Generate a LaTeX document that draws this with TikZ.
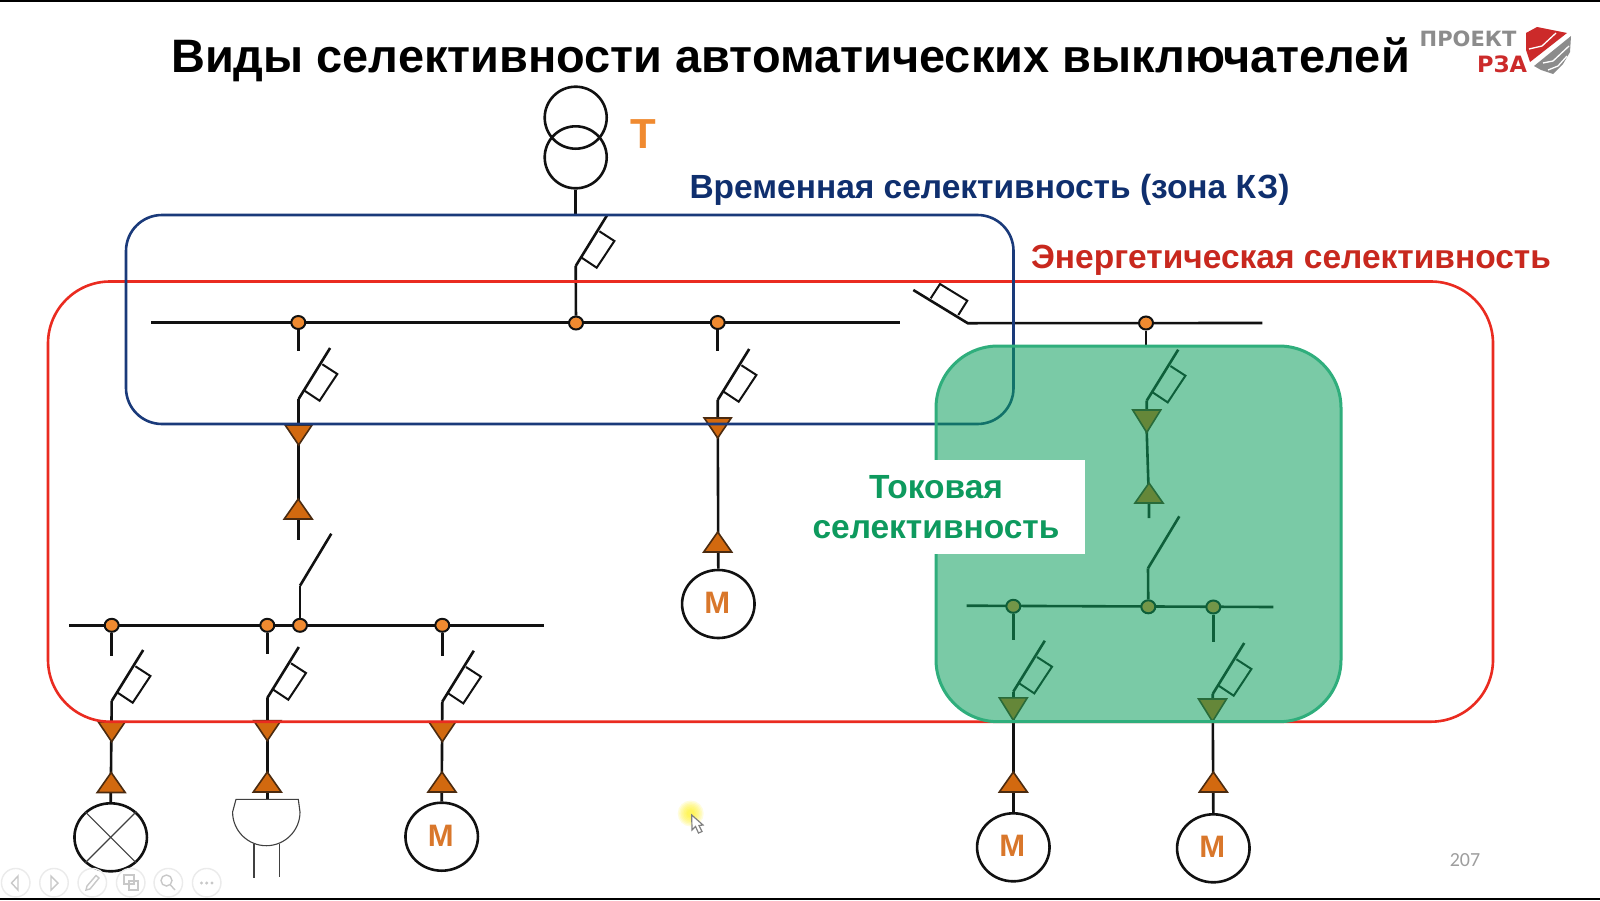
\documentclass[tikz,border=0pt]{standalone}
\usetikzlibrary{shapes.geometric}
\usepackage{fontspec}
\setmainfont{Liberation Sans}
\newfontfamily\numfont{Carlito}
\newfontfamily\logofont{DejaVu Sans}
\definecolor{wirec}{HTML}{111111}
\definecolor{dotc}{HTML}{F08A30}
\definecolor{tric}{HTML}{D2690F}
\definecolor{motc}{HTML}{D9772B}
\definecolor{bluec}{HTML}{1A3A7A}
\definecolor{bluet}{HTML}{0F2F6E}
\definecolor{redc}{HTML}{EA2B20}
\definecolor{redt}{HTML}{C8281E}
\definecolor{greenf}{HTML}{0DA05D}
\definecolor{greene}{HTML}{2FAE7C}
\definecolor{greent}{HTML}{0E9A5E}
\definecolor{logog}{HTML}{8C8C8C}
\definecolor{logor}{HTML}{CC2A2A}
\definecolor{btn}{HTML}{EBEBEB}
\tikzset{
  wire/.style={draw=wirec,line width=2.6pt},
  thinwire/.style={draw=black!75,line width=1.1pt},
  junction/.style={ellipse,draw=wirec,fill=dotc,line width=2pt,minimum width=14pt,minimum height=13pt,inner sep=0pt},
  motor/.style={ellipse,draw=wirec,line width=2.6pt,fill=white,minimum width=72.5pt,minimum height=68pt,inner sep=0pt,text=motc,font=\bfseries\fontsize{31}{31}\selectfont},
  winding/.style={circle,draw=wirec,line width=2.6pt,minimum size=62pt,inner sep=0pt},
  tdown/.style={draw=wirec!70!tric,fill=tric,line width=1.6pt,line join=miter},
  brk/.pic={
    \draw[wire] (31.5,-51) -- (0,0);
    \draw[draw=wirec,line width=2pt] (6,-8.3) -- (21,1.7) -- (38.7,-25) -- (23.7,-34.7);
  },
  swt/.pic={\draw[wire] (31.3,-52) -- (0,0);},
  trid/.pic={\filldraw[tdown] (-13.5,0) -- (13.5,0) -- (0,20) -- cycle;},
  tridl/.pic={\filldraw[tdown] (-14,0) -- (14,0) -- (0,22.5) -- cycle;},
  triu/.pic={\filldraw[tdown] (-14,0) -- (14,0) -- (0,-20) -- cycle;},
  btnc/.style={circle,draw=btn,line width=1.4pt,minimum size=28.5pt,inner sep=0pt},
  btni/.style={draw=btn!85!black,line width=1.4pt},
  lbl/.style={inner sep=0pt,font=\bfseries\fontsize{33.5}{40}\selectfont},
}
\begin{document}
\begin{tikzpicture}[x=1pt,y=-1pt]
\useasboundingbox (0,0) rectangle (1600,900);
\fill[white] (0,0) rectangle (1600,900);
\fill[black] (0,0) rectangle (1600,1.8);
\fill[black] (0,898.4) rectangle (1600,900);

% title and labels
\node[lbl,font=\bfseries\fontsize{46.9}{52}\selectfont,text=black] (title) at (790.5,60) {Виды селективности автоматических выключателей};
\node[lbl,font=\bfseries\fontsize{42}{42}\selectfont,text=dotc] (tlabel) at (643,134.5) {Т};
\node[lbl,text=bluet] (timelabel) at (989.5,189.5) {Временная селективность (зона КЗ)};
\node[lbl,text=redt] (enlabel) at (1291,260) {Энергетическая селективность};

% logo
\node[inner sep=0pt,font=\logofont\bfseries\fontsize{21}{21}\selectfont,text=logog] (logoa) at (1468,39) {ПРОЕКТ};
\node[inner sep=0pt,font=\logofont\bfseries\fontsize{22.5}{22.5}\selectfont,text=logor] (logob) at (1502,64) {РЗА};
\fill[logor] (1526,33) -- (1537,27) -- (1567,33) -- (1530,62) -- (1526,50) -- cycle;
\fill[logog] (1534,66) -- (1571,36) -- (1570,52) -- (1563,64) -- (1553,74) -- (1541,70) -- cycle;
\draw[white,line width=1.3pt] (1529,49) -- (1542,46) -- (1556,33);
\draw[white,line width=1.3pt] (1543,63) -- (1553,61) -- (1569,46);
\draw[white,line width=1.3pt] (1548,70) -- (1558,66) -- (1567,56);

% bus 1
\coordinate (bus1a) at (151,322.5);
\coordinate (bus1b) at (900,322.5);
\draw[wire] (bus1a) -- (bus1b);
\node[junction] (d1) at (298.3,322.5) {};
\node[junction] (d2) at (717.7,322.5) {};
\node[junction] (d0) at (576,323) {};

% transformer
\node[winding] (w1) at (575.7,117.7) {};
\node[winding] (w2) at (575.7,157.3) {};
\coordinate (b0) at (575.7,266);
\coordinate (b0t) at (575.7,215);
\draw[wire] (w2.south) -- (b0t);
\pic at (b0) {brk};
\draw[wire] (b0) -- (d0);

% left feeder
\draw[wire] (d1) -- (298.3,351);
\coordinate (b1) at (298.6,399);
\pic at (b1) {brk};
\coordinate (t1a) at (298.6,443);
\coordinate (t1b) at (298.6,499);
\coordinate (s1) at (298.6,540);
\draw[wire] (b1) -- (t1a) -- (t1b) -- (s1);
\pic at (298.6,425) {trid};
\pic at (298.2,519) {triu};
\coordinate (sw1) at (300,585.7);
\pic at (sw1) {swt};

% bus 2
\coordinate (bus2a) at (69,625.3);
\coordinate (bus2b) at (544,625.3);
\draw[wire] (bus2a) -- (bus2b);
\node[junction] (d3) at (111.7,625.3) {};
\node[junction] (d4) at (267.3,625.3) {};
\node[junction] (d5) at (300,625.3) {};
\node[junction] (d6) at (442.3,625.3) {};
\draw[wire] (sw1) -- (d5);

% middle feeder
\draw[wire] (d2) -- (717.7,351);
\coordinate (b2) at (717.7,400);
\pic at (b2) {brk};
\node[motor] (m1) at (718.3,604) {\hspace{-2pt}\raisebox{2pt}{М}};
\draw[wire] (b2) -- (m1.north);
\pic at (717.7,418) {trid};
\pic at (717.7,552) {triu};

% bus 2 feeders
\draw[wire] (d3) -- (111.7,656);
\coordinate (b3) at (111.7,701);
\pic at (b3) {brk};
\node[ellipse,draw=wirec,line width=2.6pt,minimum width=72.5pt,minimum height=68pt,inner sep=0pt] (lamp) at (110.7,837.3) {};
\draw[thinwire] (lamp.45) -- (lamp.225) (lamp.135) -- (lamp.315);
\draw[wire] (b3) -- (lamp.north);
\pic at (111.7,721.7) {trid};
\pic at (111.2,792.5) {triu};

\draw[wire] (d4) -- (267.3,654);
\coordinate (b4) at (267.3,698);
\pic at (b4) {brk};
\coordinate (sock) at (267.3,799.3);
\draw[wire] (b4) -- (sock);
\pic at (267.3,720.7) {trid};
\pic at (267.3,792) {triu};
\draw[thinwire,fill=white] (236,799.3) -- (298.3,799.3) -- (300,812) arc[start angle=0,end angle=180,radius=33.7] -- cycle;
\coordinate (lega) at (254,844);
\coordinate (legb) at (279.3,844);
\draw[thinwire] (lega) -- (254,878);
\draw[thinwire] (legb) -- (279.3,877);

\draw[wire] (d6) -- (442.3,656);
\coordinate (b5) at (442.3,701.7);
\pic at (b5) {brk};
\node[motor] (m2) at (441.7,836.7) {\hspace{-2pt}\raisebox{2pt}{М}};
\draw[wire] (b5) -- (m2.north);
\pic at (442.3,721.7) {trid};
\pic at (442,792) {triu};

% right section
\coordinate (bus3a) at (967.7,323.2);
\coordinate (bus3b) at (1262.3,323);
\coordinate (qtop) at (913.3,290);
\draw[wire] (qtop) -- (bus3a) -- (bus3b);
\draw[draw=wirec,line width=2pt] (930.7,298.3) -- (940,284) -- (967.3,300.7) -- (958.3,315);
\node[junction] (d7) at (1146,323) {};
\draw[wire] (d7) -- (1146,346);
\coordinate (b6) at (1146.7,400.7);
\pic at (b6) {brk};
\coordinate (t6a) at (1146.7,431);
\coordinate (t6b) at (1149,503);
\coordinate (s6) at (1149,518);
\draw[wire] (b6) -- (t6a) -- (t6b) -- (s6);
\pic at (1146.7,410) {tridl};
\pic at (1149,503) {triu};
\coordinate (sw2) at (1148,568.3);
\pic at (sw2) {swt};

\coordinate (bus4a) at (966.7,605.7);
\coordinate (bus4b) at (1273.3,607);
\draw[wire] (bus4a) -- (bus4b);
\node[junction] (d8) at (1013.3,606.3) {};
\node[junction] (d9) at (1148.3,606.8) {};
\node[junction] (d10) at (1213.3,607) {};
\draw[wire] (sw2) -- (d9);
\draw[wire] (d8) -- (1013.3,640);
\draw[wire] (d10) -- (1213.3,642);

\coordinate (b7) at (1013.3,691.7);
\pic at (b7) {brk};
\node[motor] (m3) at (1013.3,847.3) {\hspace{-2pt}\raisebox{2pt}{М}};
\draw[wire] (b7) -- (m3.north);
\pic at (1013.3,697.8) {tridl};
\pic at (1013.3,792) {triu};

\coordinate (b8) at (1212.7,694);
\pic at (b8) {brk};
\node[motor] (m4) at (1213.3,848.3) {\hspace{-2pt}\raisebox{2pt}{М}};
\draw[wire] (b8) -- (m4.north);
\pic at (1212.5,699) {tridl};
\pic at (1213.3,792) {triu};

% zones
\draw[redc,line width=2.6pt,rounded corners=62pt] (48,281.5) rectangle (1493,721.7);
\draw[bluec,line width=2.6pt,rounded corners=36pt] (126,215) rectangle (1013.5,424);
\draw[greene,line width=3pt,fill=greenf,fill opacity=.55,rounded corners=62pt] (936,346) rectangle (1341,721.7);
\node[fill=white,inner sep=0pt,minimum width=298pt,minimum height=94pt,align=center,lbl,text=greent] (cur) at (936,507) {Токовая\\селективность};

% footer
\node[inner sep=0pt,font=\numfont\fontsize{20}{20}\selectfont,text=black!38] (num) at (1465,860.5) {207};
\node[btnc] (k1) at (15.7,882.7) {};
\node[btnc] (k2) at (54,882.7) {};
\node[btnc] (k3) at (92.3,882.7) {};
\node[btnc] (k4) at (130.7,882.7) {};
\node[btnc] (k5) at (168.3,882.7) {};
\node[btnc] (k6) at (206.7,882.7) {};
\draw[btni] (18,876) -- (11.5,883) -- (18,890) -- cycle;
\draw[btni] (51,876) -- (58,883) -- (51,890) -- cycle;
\draw[btni] (86,890) -- (90,889) -- (99,878) -- (96,875.5) -- (87,886) -- cycle;
\draw[btni] (124,875) rectangle (134,884) (129,881) rectangle (138,890);
\draw[btni] (166.5,880.5) circle (5.5) (170.5,885) -- (175,890);
\fill[btn!85!black] (201.5,883) circle (1.7) (206.7,883) circle (1.7) (212,883) circle (1.7);

% cursor
\foreach \r in {13,11.5,10,8.5,7,5.5,4}{\fill[yellow,opacity=.13] (690.7,813.5) circle (\r);}
\filldraw[draw=black!50,fill=white,line width=1.2pt] (691.7,815) -- (692,830) -- (695.5,826.5) -- (698.5,833) -- (702,831.5) -- (699,825.5) -- (703,825) -- cycle;
\end{tikzpicture}
\end{document}
